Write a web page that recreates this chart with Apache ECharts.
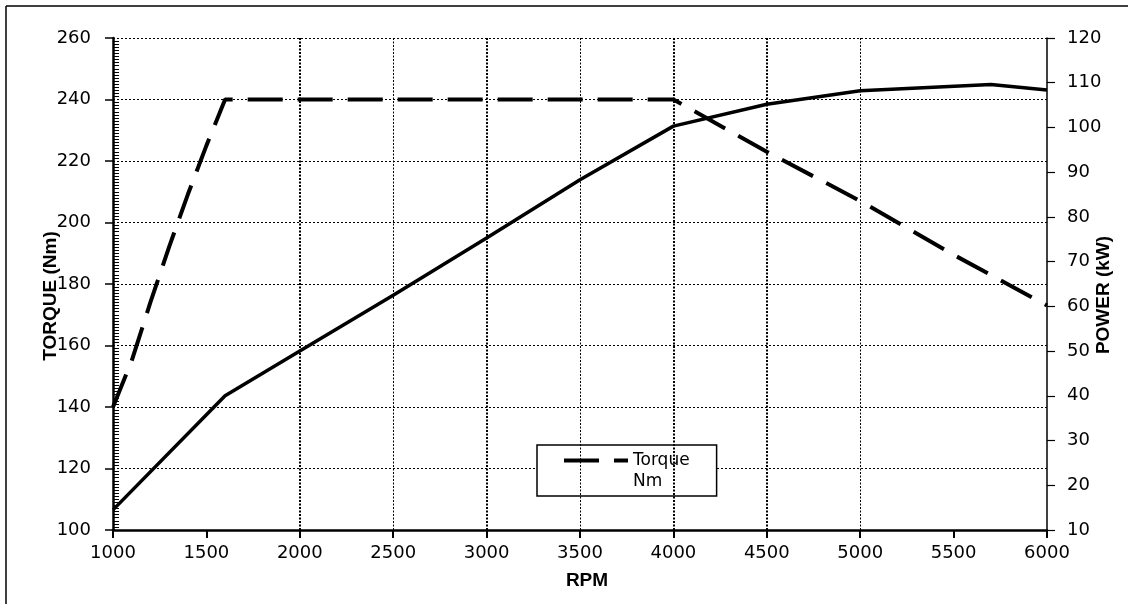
<!DOCTYPE html>
<html><head><meta charset="utf-8">
<script src="https://cdn.jsdelivr.net/npm/echarts/dist/echarts.min.js"></script>
<style>html,body{margin:0;padding:0;background:#fff}#c{width:1128px;height:610px}</style>
</head><body><div id="c"></div>
<script>
// ---- data ----
const torqueRpm = [1000, 1100, 1200, 1300, 1400, 1500, 1600, 4000, 4500, 5000, 5500, 6000];
const torqueNm  = [140, 155, 174, 192, 209, 225, 240, 240, 223, 207, 189.5, 173];
const powerRpm  = [1000, 1600, 2000, 2500, 3000, 3500, 4000, 4500, 5000, 5700, 6000];
const powerKw   = [14.5, 40, 50, 62.5, 75.3, 88.3, 100.3, 105.2, 108.2, 109.6, 108.4];
const gridRpm     = [2000, 2500, 3000, 3500, 4000, 4500, 5000];
const boldGridRpm = [2000, 3000, 4000, 4500];
const rpmTicks    = {min: 1000, max: 6000, step: 500};
const torqueTicks = {min: 100, max: 260, step: 20};
const powerTicks  = {min: 10, max: 120, step: 10};
const legendNames = ['Torque', 'Nm'];
const titles = {torque: 'TORQUE (Nm)', power: 'POWER (kW)', rpm: 'RPM'};

const FONT = 'DejaVu Sans';
const TFONT = 'Liberation Sans';
const chart = echarts.init(document.getElementById('c'), null, {renderer: 'canvas'});

const labelStyle = {fontFamily: FONT, fontSize: 18, color: '#000', formatter: v => String(v)};
const torqueDash = {color: '#000', width: 4, type: [35, 15]};

chart.setOption({
  animation: false,
  backgroundColor: '#fff',
  grid: {left: 113, right: 81, top: 38, bottom: 80, containLabel: false, outerBoundsMode: 'none'},
  legend: {
    data: [
      {name: legendNames[0], itemStyle: {opacity: 0, color: 'transparent', borderWidth: 0}, lineStyle: torqueDash},
      {name: legendNames[1], icon: 'none'}
    ],
    orient: 'vertical',
    left: 537, top: 445,
    itemWidth: 64, itemHeight: 14, itemGap: 0,
    padding: [5, 27, 4, 25],
    borderColor: '#000', borderWidth: 1.5, borderRadius: 0,
    backgroundColor: '#fff',
    selectedMode: false,
    textStyle: {fontFamily: FONT, fontSize: 17, color: '#000', lineHeight: 21}
  },
  xAxis: {
    type: 'value', min: rpmTicks.min, max: rpmTicks.max, interval: rpmTicks.step,
    axisLine: {show: true, onZero: false, lineStyle: {color: '#000', width: 2.5}},
    axisTick: {show: true, length: 8, lineStyle: {color: '#000', width: 2}},
    axisLabel: Object.assign({margin: 14, showMinLabel: true, showMaxLabel: true}, labelStyle),
    splitLine: {show: false}
  },
  yAxis: [{
    type: 'value', position: 'left', min: torqueTicks.min, max: torqueTicks.max, interval: torqueTicks.step,
    axisLine: {show: true, onZero: false, lineStyle: {color: '#000', width: 2.5}},
    axisTick: {show: true, length: 8, lineStyle: {color: '#000', width: 1.5}},
    axisLabel: Object.assign({margin: 22, showMinLabel: true, showMaxLabel: true}, labelStyle),
    splitLine: {show: true, lineStyle: {color: '#000', width: 1, type: [2, 2]}}
  }, {
    type: 'value', position: 'right', min: powerTicks.min, max: powerTicks.max, interval: powerTicks.step,
    axisLine: {show: true, onZero: false, lineStyle: {color: '#000', width: 1.5}},
    axisTick: {show: true, length: 8, lineStyle: {color: '#000', width: 1.2}},
    axisLabel: Object.assign({margin: 20, showMinLabel: true, showMaxLabel: true}, labelStyle),
    splitLine: {show: false}
  }, {
    // same torque scale, only the dense inner minor ticks of the left axis
    type: 'value', position: 'left', offset: 0, min: torqueTicks.min, max: torqueTicks.max, interval: torqueTicks.step,
    axisLine: {show: false},
    axisTick: {show: false, inside: true, length: 6},
    minorTick: {show: true, splitNumber: 20, length: 6, lineStyle: {color: '#000', width: 1}},
    axisLabel: {show: false},
    splitLine: {show: false}
  }],
  series: [{
    type: 'line', name: 'grid', data: [], z: 1, silent: true,
    markLine: {
      silent: true, symbol: ['none', 'none'], label: {show: false}, animation: false,
      data: gridRpm.map(v => ({
        xAxis: v,
        lineStyle: {color: '#000', type: [2, 1.5], width: boldGridRpm.indexOf(v) >= 0 ? 2 : 1}
      }))
    }
  }, {
    type: 'line', name: legendNames[0], yAxisIndex: 0, z: 3,
    data: torqueRpm.map((x, i) => [x, torqueNm[i]]),
    symbol: 'none', color: '#000',
    lineStyle: torqueDash
  }, {
    type: 'line', name: 'Power', yAxisIndex: 1, z: 3,
    data: powerRpm.map((x, i) => [x, powerKw[i]]),
    symbol: 'none', color: '#000',
    lineStyle: {color: '#000', width: 3.5}
  }, {
    type: 'line', name: legendNames[1], data: [], color: '#000', symbol: 'none'
  }],
  graphic: [
    {type: 'line', shape: {x1: 6, y1: 6, x2: 1128, y2: 6}, style: {stroke: '#000', lineWidth: 1.5}, silent: true},
    {type: 'line', shape: {x1: 6, y1: 6, x2: 6, y2: 604}, style: {stroke: '#000', lineWidth: 1.5}, silent: true},
    {type: 'text', x: 51, y: 296, rotation: Math.PI / 2,
     style: {text: titles.torque, fontFamily: TFONT, fontWeight: 'bold', fontSize: 19, fill: '#000', align: 'center', verticalAlign: 'middle'}},
    {type: 'text', x: 1104, y: 295, rotation: Math.PI / 2,
     style: {text: titles.power, fontFamily: TFONT, fontWeight: 'bold', fontSize: 19, fill: '#000', align: 'center', verticalAlign: 'middle'}},
    {type: 'text', x: 587, y: 581,
     style: {text: titles.rpm, fontFamily: TFONT, fontWeight: 'bold', fontSize: 19, fill: '#000', align: 'center', verticalAlign: 'middle'}}
  ]
});
</script></body></html>
